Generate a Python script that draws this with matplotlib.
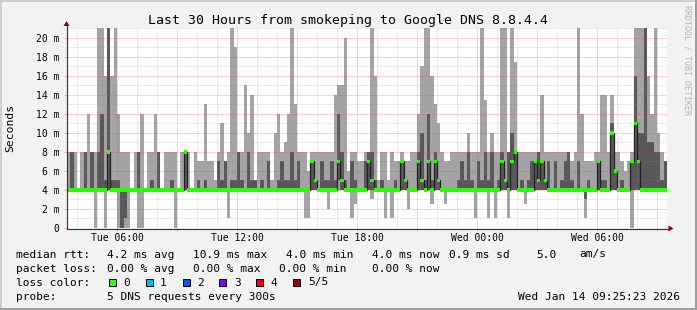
import matplotlib
matplotlib.use("Agg")
import matplotlib.pyplot as plt
import matplotlib.dates as mdates
from matplotlib.patches import Polygon, Rectangle
from matplotlib.lines import Line2D
from matplotlib.ticker import FuncFormatter
from datetime import datetime, timedelta

# 10 minute bins starting Tue 03:30, five DNS pings sorted per bin (ms)
start = datetime(2026, 1, 13, 3, 30)
step = timedelta(minutes=10)

p_min = [4, 4, 4, 4, 4, 4, 4, 4, 0, 4, 4, 0, 4, 4, 4, 0, 0, 0, 0, 4, 4, 0, 0, 4, 4, 4, 4, 4, 4, 4,
         4, 4, 0, 4, 4, 4, 4, 4, 4, 4, 4, 4, 4, 4, 4, 4, 4, 4, 1, 4, 4, 4, 4, 4, 4, 4, 4, 4, 4, 4,
         4, 4, 4, 4, 4, 4, 4, 4, 4, 4, 4, 1, 1, 4, 4, 4, 4, 4, 2, 4, 4, 4, 4, 4, 4, 1, 2.5, 4, 4, 4,
         4, 3, 4, 4, 4, 1, 4, 1, 4, 4, 4, 4, 2, 4, 4, 4, 4, 4, 4, 2.5, 4, 4, 4, 2.5, 4, 4, 4, 4, 4, 4,
         4, 4, 1, 4, 4, 4, 1, 4, 1, 4, 4, 4, 1, 4, 4, 4, 4, 2.5, 4, 4, 4, 4, 4, 4, 4, 4, 4, 4, 4, 4,
         4, 4, 4, 4, 4, 1, 4, 4, 4, 4, 4, 4, 4, 4, 4, 4, 4, 4, 4, 0, 4, 4, 4, 4, 4, 4, 4, 4, 4, 4]
p_low = [4, 4, 4, 4, 4, 4, 4, 4, 4, 4, 4, 4, 4, 4, 4, 4, 0, 1, 4, 4, 4, 4, 4, 4, 4, 4, 4, 4, 4, 4,
         4, 4, 4, 4, 4, 4, 4, 4, 4, 4, 4, 4, 4, 4, 4, 4, 4, 4, 4, 4, 4, 4, 4, 4, 4, 4, 4, 4, 4, 4,
         4, 4, 4, 4, 4, 4, 4, 4, 4, 4, 4, 4, 4, 4, 4, 4, 4, 4, 4, 4, 4, 5, 4, 4, 4, 4, 4, 4, 4, 4,
         4, 4, 4, 4, 4, 4, 4, 4, 4, 4, 4, 4, 4, 4, 4, 4, 4, 4, 4, 4, 4, 4, 4, 4, 4, 4, 4, 4, 4, 4,
         4, 4, 4, 4, 4, 4, 4, 4, 4, 4, 4, 4, 4, 4, 4, 4, 4, 4, 4, 4, 4, 4, 4, 4, 4, 4, 4, 4, 4, 4,
         4, 4, 4, 4, 4, 3, 4, 4, 4, 4, 4, 4, 4, 4, 4, 4, 4, 4, 4, 4, 4, 4, 4, 4, 4, 4, 4, 4, 4, 4]
median = [4, 4, 4, 4, 4, 4, 4, 4, 4, 4, 4, 4, 8, 4, 4, 4, 4, 4, 4, 4, 4, 4, 4, 4, 4, 4, 4, 4, 4, 4,
          4, 4, 4, 4, 4, 8, 4, 4, 4, 4, 4, 4, 4, 4, 4, 4, 4, 4, 4, 4, 4, 4, 4, 4, 4, 4, 4, 4, 4, 4,
          4, 4, 4, 4, 4, 4, 4, 4, 4, 4, 4, 4, 4, 7, 5, 4, 4, 4, 4, 4, 4, 7, 5, 4, 4, 4, 4, 4, 4, 4,
          7, 5, 4, 4, 4, 4, 4, 4, 4, 4, 7, 5, 4, 4, 4, 7, 5, 4, 7, 4, 7, 5, 4, 4, 4, 4, 4, 4, 4, 4,
          4, 4, 4, 4, 4, 4, 4, 4, 4, 4, 7, 5, 4, 7, 8, 4, 4, 4, 4, 4, 7, 5, 7, 5, 4, 4, 4, 4, 4, 4,
          4, 4, 4, 4, 4, 4, 4, 4, 4, 7, 4, 4, 4, 10, 6, 4, 4, 4, 4, 7, 11, 7, 4, 4, 4, 4, 4, 4, 4, 4]
p_high = [4, 8, 4, 4, 4, 8, 4, 8, 4, 8, 12, 5, 22, 5, 5, 5, 4, 4, 4, 4, 4, 8, 4, 4, 4, 5, 4, 8, 4, 4,
          4, 5, 4, 4, 4, 8, 4, 4, 4, 5, 4, 5, 4, 4, 4, 7, 5, 7, 4, 5, 5, 8, 5, 4, 8, 5, 5, 4, 5, 4,
          7, 4, 4, 5, 7, 5, 5, 8, 5, 7, 4, 4, 4, 7, 5, 4, 7, 5, 5, 7, 5, 12, 8, 5, 4, 7, 5, 4, 4, 7,
          8, 8, 5, 4, 5, 4, 4, 4, 5, 4, 7, 5, 4, 4, 4, 8, 10, 5, 12, 5, 8, 5, 4, 4, 4, 4, 4, 5, 7, 5,
          8, 5, 4, 7, 5, 8, 5, 8, 4, 5, 8, 5, 8, 10, 8, 4, 5, 4, 5, 7, 7, 8, 7, 5, 7, 4, 7, 4, 5, 7,
          8, 5, 4, 7, 4, 4, 5, 4, 4, 7, 5, 5, 4, 11, 6, 4, 5, 4, 4, 7, 16, 10, 10, 21, 9, 9, 8, 8, 5, 7]
p_max = [8, 8, 8, 4, 8, 8, 12, 8, 8, 22, 22, 16, 22, 16, 22, 12, 8, 8, 8, 4, 8, 8, 12, 4, 8, 8, 12, 8, 4, 8,
         8, 8, 8, 4, 8, 8, 8, 4, 8, 7, 7, 13, 7, 7, 5, 8, 11, 7, 8, 22, 19, 8, 8, 15, 10, 14, 5, 8, 8, 8,
         8, 5, 10, 12, 8, 9, 12, 22, 13, 8, 8, 8, 6, 8, 8, 8, 8, 8, 8, 8, 14, 15, 15, 20, 6, 8, 8, 7, 7, 8,
         8, 22, 16, 5, 8, 8, 5, 8, 7, 7, 8, 7, 7, 8, 8, 12, 17, 22, 22, 16, 13, 11, 8, 7, 7, 8, 8, 8, 8, 8,
         10, 8, 8, 8, 22, 13.5, 8, 10, 8, 8, 22, 22, 8, 22, 17.5, 8, 8, 8, 8, 8, 8, 8, 14, 8, 8, 8, 8, 8, 8, 8,
         8, 7, 8, 22, 12, 7, 7, 7, 8, 8, 14, 14, 8, 14, 8, 8, 7, 6, 7, 8, 22, 22, 22, 22, 16, 12, 22, 10, 8, 7]

y_ticks = [0, 2, 4, 6, 8, 10, 12, 14, 16, 18, 20]
loss_labels = ['0', '1', '2', '3', '4', '5/5']
loss_colors = ['#26ff00', '#00b8ff', '#0059ff', '#7e00ff', '#ff0000', '#a10000']

stats_rtt = ['4.2 ms avg', '10.9 ms max', '4.0 ms min', '4.0 ms now', '0.9 ms sd', '5.0', 'am/s']
stats_loss = ['0.00 % avg', '0.00 % max', '0.00 % min', '0.00 % now']

W, H = 697, 310
BG = '#f2f2f2'
MONO = 'DejaVu Sans Mono'


def fx(px):
    return px / W


def fy(py):
    return 1 - py / H


fig = plt.figure(figsize=(W / 100, H / 100), dpi=100, facecolor=BG)
ax = fig.add_axes([fx(67), fy(228), 600 / W, 200 / H])
ax.set_facecolor('white')
for s in ax.spines.values():
    s.set_visible(False)

times = [start + i * step for i in range(len(median))]
x = mdates.date2num(times)
w = step / timedelta(days=1)
edges = list(x) + [x[-1] + w]

# smoke
ax.bar(x, [b - a for a, b in zip(p_min, p_max)], bottom=p_min, width=w, align='edge',
       color='#a4a4a4', linewidth=0, antialiased=False, zorder=2)
ax.bar(x, [b - a for a, b in zip(p_low, p_high)], bottom=p_low, width=w, align='edge',
       color='#585858', linewidth=0, antialiased=False, zorder=3)

x0 = mdates.date2num(start)
x1 = mdates.date2num(start + timedelta(hours=30))
ax.set_xlim(x0, x1)
ax.set_ylim(0, 21.05)

# grid (drawn like rrdtool, dotted)
minor_c = (0.56, 0.56, 0.56, 0.35)
major_c = (0.87, 0.25, 0.25, 0.45)
dots = (0, (1, 1))
t = start.replace(minute=0) + timedelta(hours=1)
while t <= start + timedelta(hours=30):
    c = major_c if t.hour % 3 == 0 else minor_c
    ax.axvline(mdates.date2num(t), color=c, lw=0.72, ls=dots, zorder=4)
    t += timedelta(hours=1)
for v in range(1, 22):
    c = major_c if v % 2 == 0 else minor_c
    ax.axhline(v, color=c, lw=0.72, ls=dots, zorder=4)

# median line
ax.stairs(median, edges, color='#202020', lw=0.9, baseline=None, zorder=5)
sw = 0.32
ax.bar(x, sw, bottom=[m - sw / 2 for m in median], width=w, align='edge',
       color=loss_colors[0], linewidth=0, antialiased=False, zorder=6)

# ticks
ax.xaxis.set_major_locator(mdates.HourLocator(byhour=range(0, 24, 3)))
ax.xaxis.set_major_formatter(FuncFormatter(
    lambda v, pos: mdates.num2date(v).strftime('%a %H:%M') if mdates.num2date(v).hour % 6 == 0 else ''))
ax.set_yticks(y_ticks)
ax.yaxis.set_major_formatter(FuncFormatter(lambda v, pos: '0' if v == 0 else '%d m' % v))
ax.tick_params(axis='both', length=2.2, width=0.72, color='#f0a0a0', direction='out',
               labelsize=7, labelcolor='black')
ax.tick_params(axis='x', pad=1.5)
ax.tick_params(axis='y', pad=3.4)
for lab in ax.get_xticklabels() + ax.get_yticklabels():
    lab.set_family(MONO)

# axes with arrows
axis_c = '#303030'
arrow_c = '#900000'
fig.add_artist(Line2D([fx(66.5), fx(66.5)], [fy(228), fy(25)], color=axis_c, lw=0.8))
fig.add_artist(Line2D([fx(66.5), fx(669)], [fy(228.5), fy(228.5)], color=axis_c, lw=0.8))
fig.add_artist(Polygon([(fx(63.5), fy(26)), (fx(69.5), fy(26)), (fx(66.5), fy(21))],
                       closed=True, color=arrow_c, lw=0))
fig.add_artist(Polygon([(fx(668.5), fy(225.5)), (fx(668.5), fy(231.5)), (fx(673.5), fy(228.5))],
                       closed=True, color=arrow_c, lw=0))

# 3d frame
fig.add_artist(Rectangle((0, fy(2)), 1, 2 / H, color='#cfcfcf', lw=0))
fig.add_artist(Rectangle((0, 0), 2 / W, 1, color='#cfcfcf', lw=0))
fig.add_artist(Rectangle((0, 0), 1, 2 / H, color='#9e9e9e', lw=0))
fig.add_artist(Rectangle((fx(W - 2), 0), 2 / W, 1, color='#9e9e9e', lw=0))

# texts
fig.text(fx(348), fy(24), 'Last 30 Hours from smokeping to Google DNS 8.8.4.4',
         ha='center', va='baseline', family=MONO, size=9.5)
fig.text(fx(10), fy(128), 'Seconds', rotation=90, ha='center', va='center', family=MONO, size=8.2)
fig.text(fx(687.5), fy(5), 'RRDTOOL / TOBI OETIKER', rotation=270, ha='center', va='top',
         family=MONO, size=6, color='#b4b4b4')

fs = 8.0
rows = [257.5, 271.5, 285.5, 299.5]
fig.text(fx(16), fy(rows[0]), 'median rtt:', va='baseline', family=MONO, size=fs)
for s, px in zip(stats_rtt, [107.3, 193.3, 285.7, 372.3, 449, 536.7, 579.3]):
    fig.text(fx(px), fy(rows[0]), s, va='baseline', family=MONO, size=fs)
fig.text(fx(16), fy(rows[1]), 'packet loss:', va='baseline', family=MONO, size=fs)
for s, px in zip(stats_loss, [107.3, 193.3, 279.3, 372.3]):
    fig.text(fx(px), fy(rows[1]), s, va='baseline', family=MONO, size=fs)
fig.text(fx(16), fy(rows[2]), 'loss color:', va='baseline', family=MONO, size=fs)
for i, (lab, c) in enumerate(zip(loss_labels, loss_colors)):
    bx = 108.7 + 36.9 * i
    fig.add_artist(Rectangle((fx(bx), fy(285.5)), 7 / W, 7 / H, facecolor=c,
                             edgecolor='black', lw=0.72))
    fig.text(fx(bx + 14.6), fy(rows[2]), lab, va='baseline', family=MONO, size=fs)
fig.text(fx(16), fy(rows[3]), 'probe:', va='baseline', family=MONO, size=fs)
fig.text(fx(107.3), fy(rows[3]), '5 DNS requests every 300s', va='baseline', family=MONO, size=fs)
fig.text(fx(680), fy(rows[3]), 'Wed Jan 14 09:25:23 2026', ha='right', va='baseline',
         family=MONO, size=fs)

fig.savefig('out.png', dpi=100, facecolor=BG)
